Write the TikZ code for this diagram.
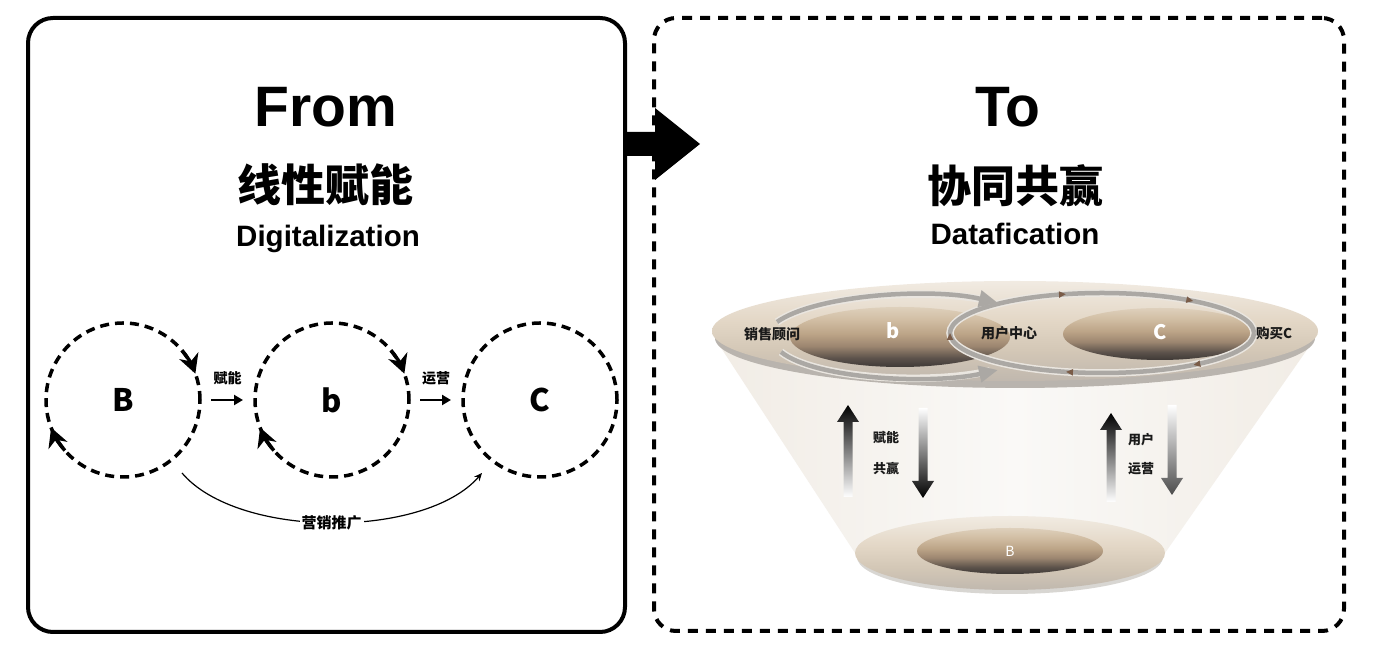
\documentclass[tikz,border=0pt]{standalone}
\usepackage{fontspec}
\setmainfont{Liberation Sans}
\newfontfamily\cjk{Noto Sans CJK SC}
\usetikzlibrary{arrows.meta,calc,decorations.markings,shapes.geometric}
\definecolor{loopgray}{HTML}{ABA8A4}
\definecolor{loophalo}{HTML}{EAE6E0}
\definecolor{brownarr}{HTML}{7A5C48}
\definecolor{diskshadow}{HTML}{B9B4AE}
\definecolor{coneside}{HTML}{F1ECE5}
\definecolor{conemid}{HTML}{FAF9F7}
\definecolor{txtdark}{HTML}{1A1A1A}
\definecolor{inA}{HTML}{3E3936}
\definecolor{inB}{HTML}{5C524B}
\definecolor{inC}{HTML}{9C8670}
\definecolor{inD}{HTML}{BCA487}
\definecolor{inE}{HTML}{D2BFA5}
\definecolor{inF}{HTML}{DED0BC}
\definecolor{dkA}{HTML}{C0B8AE}
\definecolor{dkB}{HTML}{D3C7B6}
\definecolor{dkC}{HTML}{E3D7C6}
\definecolor{dkD}{HTML}{F1EBE2}
\pgfdeclareverticalshading{innershade}{100bp}{color(0bp)=(inA); color(25bp)=(inA);
  color(32.5bp)=(inB); color(42.5bp)=(inC); color(52.5bp)=(inD); color(65bp)=(inE);
  color(75bp)=(inF); color(100bp)=(inF)}
\pgfdeclareverticalshading{diskshade}{100bp}{color(0bp)=(dkA); color(25bp)=(dkA);
  color(40bp)=(dkB); color(55bp)=(dkC); color(75bp)=(dkD); color(100bp)=(dkD)}
\begin{document}
\begin{tikzpicture}[x=1pt,y=1pt,
  titlefont/.style={inner sep=0pt, font=\bfseries\fontsize{57}{57}\selectfont},
  cjktitle/.style={inner sep=0pt, font=\cjk\bfseries\fontsize{44}{44}\selectfont},
  subtitle/.style={inner sep=0pt, font=\bfseries\fontsize{29.5}{29.5}\selectfont},
  dcirc/.style={circle, draw, line width=3.5pt, dash pattern=on 9pt off 6pt,
     minimum size=154pt, inner sep=0pt, outer sep=0pt,
     font=\cjk\bfseries\fontsize{31}{31}\selectfont},
  cyctip/.style={line width=3.5pt, -{Stealth[length=19pt 0 0,width=20pt 0 0,inset=6pt 0 0]}},
  smallarrow/.style={line width=2.5pt, -{Triangle[length=9pt,width=10pt]}},
  lbl/.style={inner sep=0pt, font=\cjk\bfseries\fontsize{14}{14}\selectfont},
  rlbl/.style={inner sep=0pt, text=txtdark, font=\cjk\bfseries\fontsize{14}{14}\selectfont},
  innerdisk/.style={ellipse, inner sep=0pt, outer sep=0pt, shading=innershade,
     text=white, font=\cjk\bfseries\fontsize{20}{20}\selectfont},
  outerdisk/.style={ellipse, inner sep=0pt, outer sep=0pt, shading=diskshade},
  loopline/.style={draw=loopgray, line width=4.5pt},
  loophalo/.style={draw=loophalo, line width=7.5pt},
  bigtip/.style={-{Triangle[length=19pt,width=16pt,color=loopgray]}},
]
\useasboundingbox (0,0) rectangle (1379,647);
\fill[white] (0,0) rectangle (1379,647);

% ---------- frames ----------
\node[draw, line width=4pt, rounded corners=25pt, minimum width=597pt,
      minimum height=614pt, inner sep=0pt, outer sep=0pt] (leftbox) at (326.5,322) {};
\node[draw, line width=4pt, dash pattern=on 10pt off 8pt, rounded corners=22pt,
      minimum width=690pt, minimum height=613pt, inner sep=0pt, outer sep=0pt] (rightbox) at (999,322.5) {};

% big arrow between the frames
\fill (leftbox.east |- 0,491) -- (655,491) -- (655,467) -- (700,503)
      -- (655,539) -- (655,515) -- (leftbox.east |- 0,515) -- cycle;

% ---------- titles ----------
\node[titlefont, anchor=base] (from) at (326,520) {From};
\node[cjktitle] (lin) at (325,462) {线性赋能};
\node[subtitle, anchor=base] (digi) at (328,400) {Digitalization};

\node[titlefont, anchor=base] (to) at (1008,520) {To};
\node[cjktitle] (xie) at (1015,461) {协同共赢};
\node[subtitle, anchor=base] (data) at (1015,402) {Datafication};

% ---------- left diagram ----------
\node[dcirc] (B) at (123,247) {B};
\node[dcirc] (b) at (332,247) {b};
\node[dcirc] (C) at (540,247) {C};

\draw[cyctip] ($(B.center)+(40:77)$) arc[start angle=40, end angle=20, radius=77];
\draw[cyctip] ($(B.center)+(221:77)$) arc[start angle=221, end angle=201, radius=77];
\draw[cyctip] ($(b.center)+(40:77)$) arc[start angle=40, end angle=20, radius=77];
\draw[cyctip] ($(b.center)+(221:77)$) arc[start angle=221, end angle=201, radius=77];

\draw[smallarrow, shorten <=11pt, shorten >=12pt] (B.east) -- (b.west)
   node[lbl, pos=0.5, yshift=22pt] {赋能};
\draw[smallarrow, shorten <=11pt, shorten >=12pt] (b.east) -- (C.west)
   node[lbl, pos=0.5, yshift=22pt] {运营};

\draw[line width=1.2pt, -{Stealth[length=8pt,width=7pt]}]
   ($(B.center)+(59,-73)$) .. controls ($(B.center)+(115,-139)$) and ($(C.center)+(-115,-139)$) .. ($(C.center)+(-58,-73)$)
   node[pos=0.5, fill=white, inner sep=2pt, font=\cjk\bfseries\fontsize{15}{15}\selectfont] {营销推广};

% ---------- right diagram ----------
% cone
\shade[left color=coneside, right color=coneside, middle color=conemid]
   (712,313) -- (855,94) -- (1165,94) -- (1318,313) -- cycle;

% top disk
\fill[diskshadow] (1015,309) ellipse[x radius=300, y radius=50];
\node[outerdisk, minimum width=606pt, minimum height=100pt] (topdisk) at (1015,316) {};

% bottom disk
\fill[diskshadow!55] (1010,90) ellipse[x radius=153, y radius=37];
\node[outerdisk, minimum width=310pt, minimum height=74pt] (botdisk) at (1010,94) {};
\node[innerdisk, minimum width=186pt, minimum height=46pt,
      font=\cjk\fontsize{14}{14}\selectfont] (Bdisk) at (1010,96) {B};

% inner disks
\node[innerdisk, minimum width=220pt, minimum height=60pt] (bdisk) at (900,310) {};
\node[innerdisk, minimum width=194pt, minimum height=52pt] (Cdisk) at (1160,313) {};
\node[text=white, inner sep=0pt, font=\cjk\bfseries\fontsize{20}{20}\selectfont] at (893,316) {b};
\node[text=white, inner sep=0pt, font=\cjk\bfseries\fontsize{20}{20}\selectfont] at (1160,315) {C};

% right loop (clockwise)
\draw[loophalo] (1102,314) ellipse[x radius=152, y radius=40];
\draw[loopline, postaction={decorate}, decoration={markings,
   mark=at position 0.11 with {\arrow{Triangle[length=7pt,width=6pt,color=brownarr]}},
   mark=at position 0.305 with {\arrow{Triangle[length=7pt,width=6pt,color=brownarr]}},
   mark=at position 0.5 with {\arrow{Triangle[length=7pt,width=6pt,color=brownarr]}},
   mark=at position 0.695 with {\arrow{Triangle[length=7pt,width=6pt,color=brownarr]}},
   mark=at position 0.89 with {\arrow{Triangle[length=7pt,width=6pt,color=brownarr]}}}]
   (1254,314) arc[start angle=0, end angle=-360, x radius=152, y radius=40];

% left loop arcs
\draw[loophalo] (777,325) .. controls (815,352) and (930,360) .. (990,346);
\draw[loophalo] (781,295) .. controls (815,268) and (930,262) .. (990,276);
\draw[loopline, bigtip] (777,325) .. controls (815,352) and (930,360) .. (998,344);
\draw[loopline, bigtip] (781,295) .. controls (815,268) and (930,262) .. (998,277);

% labels on the top disk
\node[rlbl] (xsgw) at (772,313) {销售顾问};
\node[rlbl] (yhzx) at (1009,314) {用户中心};
\node[rlbl, font=\cjk\bfseries\fontsize{13.5}{13.5}\selectfont] (gmc) at (1274,314) {购买C};

% vertical gradient arrows
\shade[top color=black, middle color=black!75, bottom color=white]
  (843.5,150) -- (843.5,225) -- (837,225) -- (848,242) -- (859,225) -- (852.5,225) -- (852.5,150) -- cycle;
\shade[top color=white, middle color=black!75, bottom color=black]
  (918.5,239) -- (918.5,166) -- (912,166) -- (923,149) -- (934,166) -- (927.5,166) -- (927.5,239) -- cycle;
\shade[top color=black, middle color=black!75, bottom color=white]
  (1106.5,145) -- (1106.5,217) -- (1100,217) -- (1111,234) -- (1122,217) -- (1115.5,217) -- (1115.5,145) -- cycle;
\shade[top color=white, middle color=black!45, bottom color=black!70]
  (1167.5,242) -- (1167.5,169) -- (1161,169) -- (1172,152) -- (1183,169) -- (1176.5,169) -- (1176.5,242) -- cycle;

\node[rlbl, font=\cjk\bfseries\fontsize{13}{13}\selectfont] (fn) at (886,209) {赋能};
\node[rlbl, font=\cjk\bfseries\fontsize{13}{13}\selectfont] (gy) at (886,178) {共赢};
\node[rlbl, font=\cjk\bfseries\fontsize{13}{13}\selectfont] (yh) at (1141,207) {用户};
\node[rlbl, font=\cjk\bfseries\fontsize{13}{13}\selectfont] (yy) at (1141,178) {运营};
\end{tikzpicture}
\end{document}
